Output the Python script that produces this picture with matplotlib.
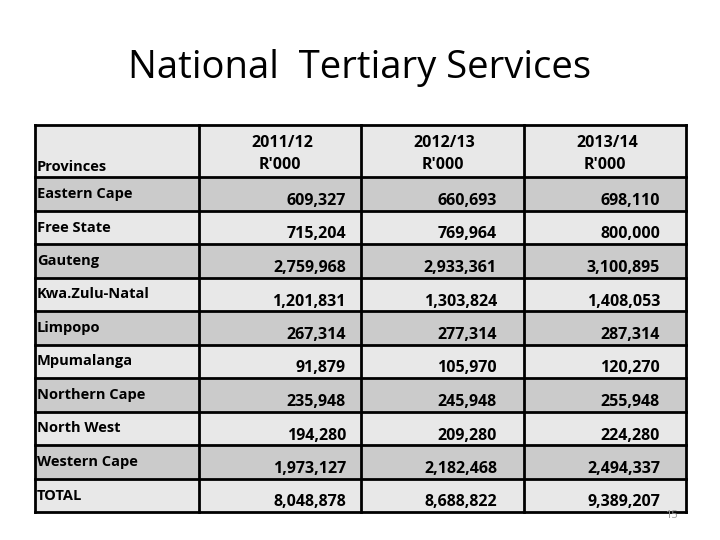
import matplotlib.pyplot as plt
from matplotlib.patches import Rectangle

# table data
provinces = ["Eastern Cape", "Free State", "Gauteng", "Kwa.Zulu-Natal", "Limpopo",
             "Mpumalanga", "Northern Cape", "North West", "Western Cape", "TOTAL"]
years = ["2011/12", "2012/13", "2013/14"]
v_2011 = [609327, 715204, 2759968, 1201831, 267314, 91879, 235948, 194280, 1973127, 8048878]
v_2012 = [660693, 769964, 2933361, 1303824, 277314, 105970, 245948, 209280, 2182468, 8688822]
v_2013 = [698110, 800000, 3100895, 1408053, 287314, 120270, 255948, 224280, 2494337, 9389207]
values = [v_2011, v_2012, v_2013]

fig = plt.figure(figsize=(7.2, 5.4), dpi=100)
ax = fig.add_axes([0, 0, 1, 1])
ax.set_xlim(0, 720)
ax.set_ylim(540, 0)
ax.axis("off")

body_font = ["Open Sans", "DejaVu Sans"]

ax.text(360, 68, "National  Tertiary Services", ha="center", va="center",
        fontsize=27.5, family=body_font)

# layout
x_edges = [35, 199, 361, 524, 686]
top, head_bot, bottom = 125, 177, 512
row_h = (bottom - head_bot) / len(provinces)
light, dark = "#e8e8e8", "#cbcbcb"
value_right = [346, 497, 660]

ax.add_patch(Rectangle((x_edges[0], top), x_edges[-1] - x_edges[0], head_bot - top,
                       facecolor=light, edgecolor="none"))
for i in range(len(provinces)):
    y0 = head_bot + i * row_h
    ax.add_patch(Rectangle((x_edges[0], y0), x_edges[-1] - x_edges[0], row_h,
                           facecolor=dark if i % 2 == 0 else light, edgecolor="none"))

# grid lines
for x in x_edges:
    ax.plot([x, x], [top, bottom], color="black", lw=2)
for i in range(len(provinces) + 1):
    y = head_bot + i * row_h
    ax.plot([x_edges[0], x_edges[-1]], [y, y], color="black", lw=2)
ax.plot([x_edges[0], x_edges[-1]], [top, top], color="black", lw=2)

# header
ax.text(37, 167, "Provinces", ha="left", va="center", fontsize=10.5,
        fontweight="bold", family=body_font)
for j, yr in enumerate(years):
    cx = (x_edges[j + 1] + x_edges[j + 2]) / 2
    ax.text(cx + 2, 143, yr, ha="center", va="center", fontsize=11.5,
            fontweight="bold", family=body_font)
    ax.text(cx, 165, "R'000", ha="center", va="center", fontsize=11.5,
            fontweight="bold", family=body_font)

# rows
for i, name in enumerate(provinces):
    y0 = head_bot + i * row_h
    ax.text(37, y0 + 17, name, ha="left", va="center", fontsize=10.5,
            fontweight="bold", family=body_font)
    for j in range(3):
        ax.text(value_right[j], y0 + 24, f"{values[j][i]:,}",
                ha="right", va="center", fontsize=11.5, fontweight="bold", family=body_font)

ax.text(671, 515, "15", ha="center", va="center", fontsize=8, color="#999999",
        family=body_font)

fig.savefig("out.png", dpi=100)
